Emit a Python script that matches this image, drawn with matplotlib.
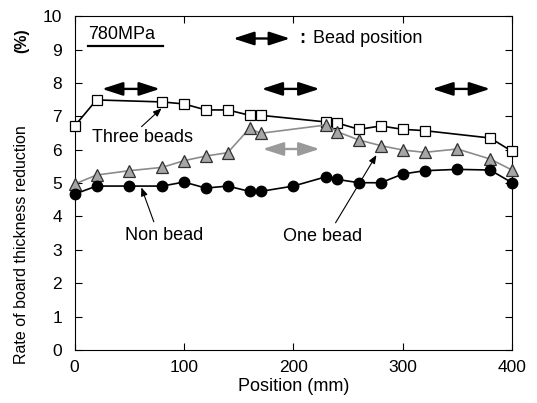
import matplotlib
matplotlib.use("Agg")
import matplotlib.pyplot as plt

plt.rcParams['font.family'] = ['Liberation Sans', 'DejaVu Sans']

# Data
x_three = [0, 20, 80, 100, 120, 140, 160, 170, 230, 240, 260, 280, 300, 320, 380, 400]
y_three = [6.71, 7.49, 7.43, 7.37, 7.19, 7.19, 7.03, 7.03, 6.83, 6.80, 6.61, 6.71, 6.61, 6.57, 6.35, 5.95]

x_one = [0, 20, 50, 80, 100, 120, 140, 160, 170, 230, 240, 260, 280, 300, 320, 350, 380, 400]
y_one = [4.97, 5.24, 5.37, 5.47, 5.67, 5.81, 5.91, 6.64, 6.49, 6.74, 6.54, 6.29, 6.12, 5.99, 5.92, 6.02, 5.72, 5.39]

x_non = [0, 20, 50, 80, 100, 120, 140, 160, 170, 200, 230, 240, 260, 280, 300, 320, 350, 380, 400]
y_non = [4.67, 4.91, 4.91, 4.91, 5.03, 4.85, 4.91, 4.75, 4.75, 4.91, 5.19, 5.11, 5.01, 5.01, 5.27, 5.37, 5.41, 5.39, 5.01]

# Bead positions (start, end)
bead_black = [(25, 78), (171, 224), (327, 380)]
bead_black_y = 7.82
bead_gray = [(172, 224)]
bead_gray_y = 6.02

fig = plt.figure(figsize=(5.37, 4.03), dpi=100)
ax = fig.add_axes([0.139, 0.1315, 0.8145, 0.8285])

ax.plot(x_three, y_three, color='black', lw=1.2, marker='s', ms=7.2,
        mfc='white', mec='black', mew=0.9, zorder=3, clip_on=False)
ax.plot(x_one, y_one, color='#8c8c8c', lw=1.2, marker='^', ms=8.5,
        mfc='#a6a6a6', mec='#303030', mew=0.9, zorder=4, clip_on=False)
ax.plot(x_non, y_non, color='black', lw=1.2, marker='o', ms=7.5,
        mfc='black', mec='black', zorder=5, clip_on=False)

def dbl_arrow(x0, x1, y, color):
    ax.annotate('', xy=(x1, y), xytext=(x0, y),
                arrowprops=dict(arrowstyle='<|-|>,head_length=1.05,head_width=0.34',
                                color=color, lw=1.7, shrinkA=0, shrinkB=0,
                                mutation_scale=12))

for (a, b) in bead_black:
    dbl_arrow(a, b, bead_black_y, 'black')
for (a, b) in bead_gray:
    dbl_arrow(a, b, bead_gray_y, '#9a9a9a')

# legend-like annotation
dbl_arrow(145, 197, 9.33, 'black')
ax.text(208, 9.33, ':', fontsize=13, fontweight='bold', va='center', ha='center')
ax.text(218, 9.33, 'Bead position', fontsize=13, va='center', ha='left')
ax.text(12, 9.45, '780MPa', fontsize=13, va='center', ha='left')
ax.plot([12, 81], [9.1, 9.1], color='black', lw=1.6, clip_on=False)

# labels with pointers
ap = dict(arrowstyle='-|>,head_length=0.5,head_width=0.2',
          color='black', lw=0.8, shrinkA=0, shrinkB=0)
ax.text(62, 6.35, 'Three beads', fontsize=13, ha='center', va='center')
ax.annotate('', xy=(79.5, 7.24), xytext=(61.2, 6.69), arrowprops=ap)
ax.text(82, 3.44, 'Non bead', fontsize=13, ha='center', va='center')
ax.annotate('', xy=(61, 4.87), xytext=(72.4, 3.84), arrowprops=ap)
ax.text(227, 3.39, 'One bead', fontsize=13, ha='center', va='center')
ax.annotate('', xy=(276, 5.84), xytext=(238.6, 3.81), arrowprops=ap)

ax.set_xlim(0, 400)
ax.set_ylim(0, 10)
ax.set_xticks([0, 100, 200, 300, 400])
ax.set_yticks(range(0, 11))
ax.tick_params(direction='in', length=5, width=0.8, top=True, right=True,
               labelsize=12.5)
ax.tick_params(axis='x', pad=7)
ax.tick_params(axis='y', pad=9)
for s in ax.spines.values():
    s.set_linewidth(0.8)

ax.set_xlabel('Position (mm)', fontsize=13, labelpad=2)
fig.text(22 / 537, 1 - 245 / 403, 'Rate of board thickness reduction',
         rotation=90, fontsize=11.5, ha='center', va='center')
fig.text(22 / 537, 1 - 41 / 403, '(%)', rotation=90, fontsize=11.5,
         fontweight='bold', ha='center', va='center')

fig.savefig('out.png', dpi=100)
